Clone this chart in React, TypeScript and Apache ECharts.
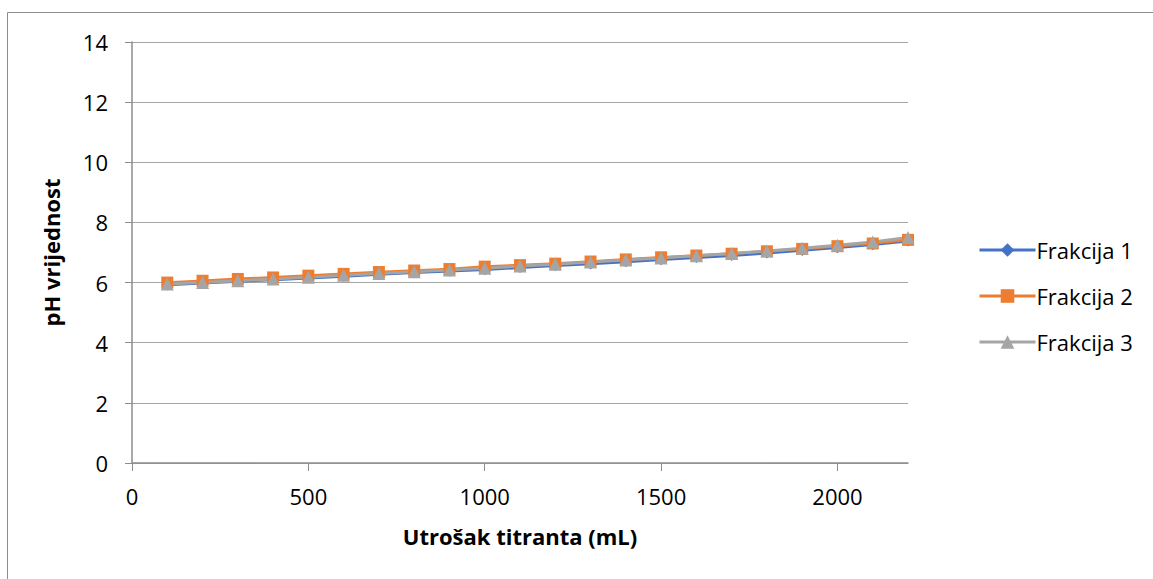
import React, { useEffect, useRef } from "react";
import * as echarts from "echarts";

const xValues = [100, 200, 300, 400, 500, 600, 700, 800, 900, 1000, 1100, 1200, 1300, 1400, 1500, 1600, 1700, 1800, 1900, 2000, 2100, 2200];
const frakcija1 = [5.92, 5.98, 6.04, 6.09, 6.15, 6.21, 6.27, 6.33, 6.38, 6.43, 6.5, 6.56, 6.62, 6.69, 6.76, 6.83, 6.9, 6.98, 7.07, 7.16, 7.26, 7.38];
const frakcija2 = [6.0, 6.06, 6.12, 6.17, 6.23, 6.29, 6.35, 6.4, 6.45, 6.53, 6.58, 6.63, 6.7, 6.77, 6.84, 6.9, 6.96, 7.04, 7.12, 7.21, 7.3, 7.42];
const frakcija3 = [5.95, 6.0, 6.06, 6.12, 6.18, 6.24, 6.3, 6.36, 6.42, 6.48, 6.55, 6.61, 6.68, 6.75, 6.82, 6.89, 6.97, 7.05, 7.14, 7.24, 7.35, 7.5];
const seriesNames = ["Frakcija 1", "Frakcija 2", "Frakcija 3"];
const xTitle = "Utrošak titranta (mL)";
const yTitle = "pH vrijednost";

const FONT = "'Open Sans', sans-serif";

export default function App() {
  const ref = useRef<HTMLDivElement>(null);
  useEffect(() => {
    document.body.style.margin = "0";
    const chart = echarts.init(ref.current!, null, { renderer: "svg" });
    const mk = (vals: number[]) => xValues.map((x, i) => [x, vals[i]]);
    chart.setOption({
      animation: false,
      textStyle: { fontFamily: FONT },
      graphic: [
        {
          type: "rect",
          shape: { x: 7.5, y: 12.5, width: 1160, height: 600 },
          style: { fill: "none", stroke: "#8c8c8c", lineWidth: 1 },
          silent: true,
        },
      ],
      grid: { left: 132, right: 245, top: 42, bottom: 116, containLabel: false },
      legend: {
        orient: "vertical",
        left: 973,
        top: 234,
        itemWidth: 56,
        itemHeight: 17,
        itemGap: 24,
        lineStyle: { width: 3 },
        textStyle: { fontSize: 22, color: "#000", fontFamily: FONT, padding: [0, 0, 0, -4] },
        data: seriesNames,
      },
      xAxis: {
        type: "value",
        min: 0,
        max: 2200,
        interval: 500,
        name: xTitle,
        nameLocation: "middle",
        nameGap: 62,
        nameTextStyle: { fontSize: 22, fontWeight: "bold", color: "#000", fontFamily: FONT },
        axisLine: { show: true, lineStyle: { color: "#8c8c8c", width: 1.5 } },
        axisTick: { show: true, length: 8, lineStyle: { color: "#8c8c8c" } },
        axisLabel: {
          fontSize: 22,
          color: "#000",
          margin: 22,
          showMaxLabel: false,
          fontFamily: FONT,
          formatter: (v: number) => String(v),
        },
        splitLine: { show: false },
      },
      yAxis: {
        type: "value",
        min: 0,
        max: 14,
        interval: 2,
        name: yTitle,
        nameLocation: "middle",
        nameRotate: 90,
        nameGap: 70,
        nameTextStyle: { fontSize: 22, fontWeight: "bold", color: "#000", fontFamily: FONT },
        axisLine: { show: true, lineStyle: { color: "#8c8c8c", width: 1.5 } },
        axisTick: { show: true, length: 7, lineStyle: { color: "#8c8c8c" } },
        axisLabel: { fontSize: 22, color: "#000", margin: 24, fontFamily: FONT },
        splitLine: { show: true, lineStyle: { color: "#a6a6a6", width: 1.2 } },
      },
      series: [
        {
          name: seriesNames[0],
          type: "line",
          data: mk(frakcija1),
          symbol: "diamond",
          symbolSize: 11,
          color: "#4472c4",
          lineStyle: { width: 2.75, color: "#4472c4" },
          itemStyle: { color: "#4472c4" },
        },
        {
          name: seriesNames[1],
          type: "line",
          data: mk(frakcija2),
          symbol: "rect",
          symbolSize: 12,
          color: "#ed7d31",
          lineStyle: { width: 2.75, color: "#ed7d31" },
          itemStyle: { color: "#ed7d31" },
        },
        {
          name: seriesNames[2],
          type: "line",
          data: mk(frakcija3),
          symbol: "triangle",
          symbolSize: 13,
          color: "#a5a5a5",
          lineStyle: { width: 3, color: "#a5a5a5" },
          itemStyle: { color: "#a5a5a5" },
        },
      ],
    });
    return () => chart.dispose();
  }, []);
  return <div ref={ref} style={{ width: 1153, height: 579 }} />;
}
